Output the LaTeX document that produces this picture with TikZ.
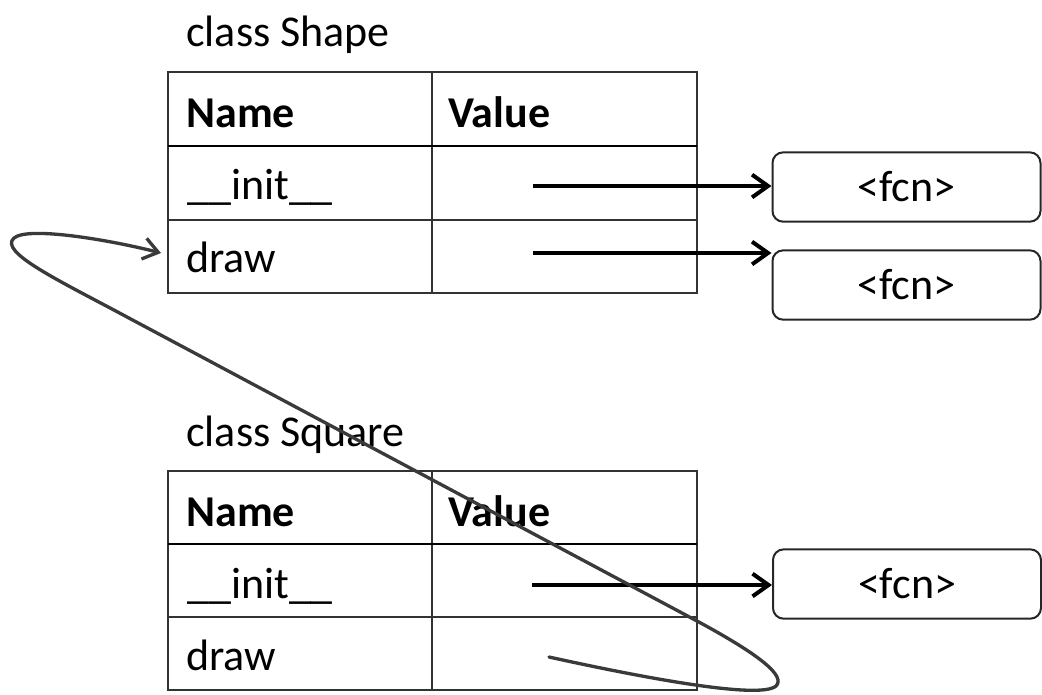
\documentclass[tikz,border=0pt]{standalone}
\usepackage{fontspec}
\setmainfont{Carlito}
\usetikzlibrary{arrows.meta}
\definecolor{curvegray}{HTML}{3A3A3A}
\begin{document}
\begin{tikzpicture}[x=0.75pt,y=-0.75pt,
  lbl/.style={anchor=base west,inner sep=0pt,font=\fontsize{33}{40}\selectfont},
  hdr/.style={anchor=base west,inner sep=0pt,font=\fontsize{33}{40}\selectfont\bfseries},
  grid/.style={draw=black!80,line width=1.5pt},
  sepline/.style={draw=black,line width=2.2pt},
  fcnbox/.style={draw=black!85,line width=1.5pt,rounded corners=8pt,
    minimum width=201pt,minimum height=52pt,inner sep=0pt,
    font=\fontsize{33}{40}\selectfont},
  ptr/.style={-{Straight Barb[length=12pt,width=17pt]},line width=3pt,black},
  loopcurve/.style={-{Straight Barb[length=11pt,width=16pt]},line width=2.5pt,curvegray,line cap=round}]
\useasboundingbox (0,0) rectangle (1042,694);

% ---------- class Shape ----------
\node[lbl] (t1) at (186,46) {class Shape};
\draw[grid] (168,72) rectangle (697,293);
\draw[grid] (432,72) -- (432,293);
\draw[sepline] (168,146) -- (697,146);
\draw[grid] (168,220) -- (697,220);
\node[hdr] (n1) at (186,127) {Name};
\node[hdr] (v1) at (448,127) {Value};
\node[lbl] (i1) at (187,199) {\_\_init\_\_};
\node[lbl] (d1) at (186,272) {draw};

\node[fcnbox] (b1) at (906.5,187) {<fcn>};
\node[fcnbox] (b2) at (906.5,285) {<fcn>};
\coordinate (a1) at (533,186);
\coordinate (a2) at (533,253);
\draw[ptr] (a1) -- (a1 -| b1.west);
\draw[ptr] (a2) -- (a2 -| b2.west);

% ---------- class Square ----------
\node[lbl] (t2) at (186,446) {class Square};
\draw[grid] (168,471) rectangle (697,690);
\draw[grid] (432,471) -- (432,690);
\draw[sepline] (168,544) -- (697,544);
\draw[grid] (168,617) -- (697,617);
\node[hdr] (n2) at (186,526) {Name};
\node[hdr] (v2) at (448,526) {Value};
\node[lbl] (i2) at (187,598) {\_\_init\_\_};
\node[lbl] (d2) at (186,670) {draw};

\node[fcnbox] (b3) at (907,584) {<fcn>};
\coordinate (a3) at (532,585);
\draw[ptr] (a3) -- (a3 -| b3.west);

% ---------- lookup curve ----------
\coordinate (cs) at (549,657);
\coordinate (ce) at (161,253);
\draw[loopcurve] (cs) .. controls (640,677) and (760,700) .. (776,686)
  .. controls (786,676) and (760,655) .. (697,621)
  -- (127,317)
  .. controls (60,281) and (-2,252) .. (14,238)
  .. controls (28,226) and (110,240) .. (ce);
\end{tikzpicture}
\end{document}
